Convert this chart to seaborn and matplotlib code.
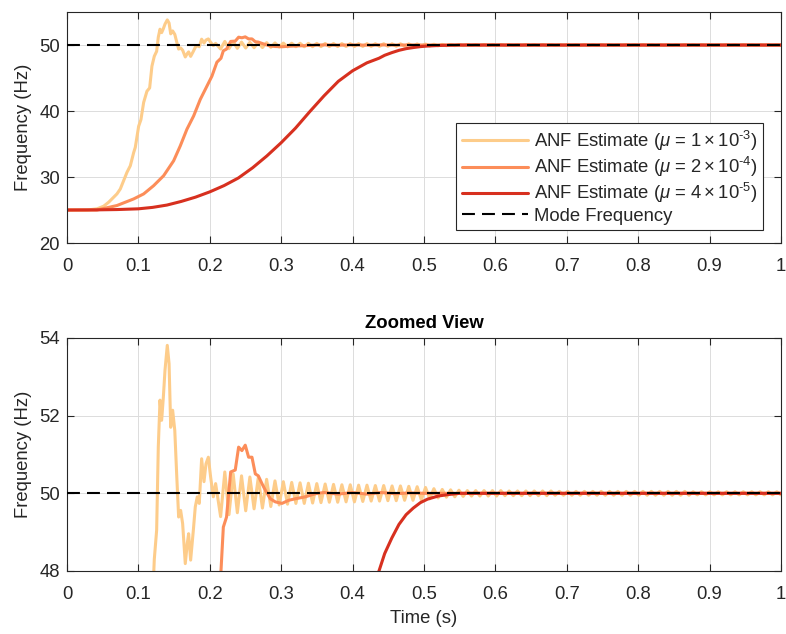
import numpy as np
import pandas as pd
import matplotlib
matplotlib.use("Agg")
import matplotlib.pyplot as plt
import seaborn as sns

# ---------------- data ----------------
MODE_FREQ = 50.0

# mu = 1e-3 : transient part
yel_t = [0.0, 0.028, 0.042, 0.0514, 0.0584, 0.0654, 0.070, 0.0747, 0.0794, 0.084,
         0.0887, 0.0934, 0.0957, 0.1004, 0.1036, 0.1074, 0.112, 0.1158, 0.119, 0.1223,
         0.1256, 0.1279, 0.1303, 0.1326, 0.135, 0.1373, 0.1405, 0.143, 0.1453, 0.148,
         0.151, 0.1536, 0.1564, 0.1592, 0.162, 0.1657, 0.1685, 0.1704, 0.1732, 0.177,
         0.1797, 0.1825, 0.1853, 0.1886, 0.1919, 0.1947, 0.198, 0.2012, 0.205, 0.2082]
yel_f = [25.0, 25.0, 25.18, 25.58, 26.18, 26.93, 27.44, 28.19, 29.45, 30.7,
         31.7, 33.7, 34.5, 37.7, 38.7, 41.3, 43.0, 43.5, 46.8, 48.3,
         49.05, 51.19, 52.4, 51.88, 52.48, 53.17, 53.81, 53.34, 51.7, 52.14,
         51.62, 50.51, 49.39, 49.56, 49.22, 48.19, 48.71, 48.96, 48.28, 49.05,
         49.65, 49.91, 49.74, 50.89, 50.3, 50.76, 50.93, 50.42, 49.91, 50.25]
# mu = 1e-3 : ripple part (samples from t = 0.2152 to 1.0)
yel_ripple = [
    49.40, 50.55, 49.45, 50.50, 49.50, 50.45, 49.55,
    50.42, 49.60, 50.40, 49.62, 50.36, 49.66, 50.32, 49.70,
    50.30, 49.72, 50.28, 49.74, 50.27, 49.74, 50.26, 49.75, 50.25,
    49.76, 50.24, 49.77, 50.23, 49.77, 50.22, 49.78, 50.22,
    49.78, 50.21, 49.79, 50.21, 49.80, 50.20, 49.80, 50.20, 49.81,
    50.19, 49.81, 50.19, 49.82, 50.18, 49.82, 50.17, 49.83,
    50.15, 49.86, 50.12, 49.88, 50.10, 49.90, 50.09, 49.91, 50.08,
    49.92, 50.07, 49.93, 50.07, 49.93, 50.07, 49.93, 50.07,
    49.93, 50.07, 49.94, 50.06, 49.94, 50.06, 49.94, 50.06, 49.94, 50.06,
    49.94, 50.06, 49.94, 50.06, 49.95, 50.05, 49.95,
    50.05, 49.95, 50.05, 49.95, 50.05, 49.95, 50.05, 49.95, 50.05, 49.95,
    50.05, 49.95, 50.05, 49.95, 50.05, 49.95, 50.05, 49.95, 50.05, 49.95,
    50.05, 49.95, 50.05, 49.95, 50.05, 49.95, 50.05, 49.95, 50.05, 49.95,
    50.04, 49.96, 50.04, 49.96, 50.04, 49.96, 50.04, 49.96, 50.04, 49.96,
    50.04, 49.96, 50.04, 49.96, 50.04, 49.96, 50.04, 49.96, 50.04, 49.96,
    50.04, 49.96]
yel_ripple_t = np.linspace(0.2152, 1.0, len(yel_ripple))

# mu = 2e-4
org_t = [0.0, 0.042, 0.07, 0.0934, 0.1074, 0.1214, 0.1354, 0.1494, 0.1587, 0.168,
         0.1774, 0.1867, 0.196, 0.203, 0.21, 0.2157, 0.219, 0.2235, 0.226, 0.2293,
         0.2357, 0.2404, 0.245, 0.2497, 0.2544, 0.2591, 0.2638, 0.268, 0.2731, 0.2778,
         0.2848, 0.2918, 0.3011, 0.3105, 0.3198, 0.334, 0.348, 0.36, 0.38, 0.40,
         0.42, 0.44, 0.46, 0.48, 0.50, 0.55, 0.60, 0.70, 0.80, 0.90, 1.0]
org_f = [25.0, 25.0, 25.68, 26.68, 27.44, 28.69, 30.2, 32.46, 34.72, 37.24,
         39.25, 41.76, 43.77, 45.28, 47.4, 48.0, 49.13, 49.39, 49.9, 50.55,
         50.6, 51.19, 51.1, 51.24, 50.93, 50.93, 50.5, 50.45, 50.25, 50.08,
         49.86, 49.78, 49.74, 49.82, 49.86, 49.91, 49.99, 50.02, 49.98, 50.02,
         49.98, 50.02, 49.99, 50.01, 50.0, 50.0, 50.0, 50.0, 50.0, 50.0, 50.0]

# mu = 4e-5
red_t = [0.0, 0.04, 0.07, 0.10, 0.12, 0.14, 0.16, 0.18, 0.20, 0.22,
         0.24, 0.26, 0.28, 0.30, 0.32, 0.34, 0.36, 0.38, 0.40, 0.42,
         0.437, 0.445, 0.455, 0.465, 0.475, 0.485, 0.495, 0.505, 0.52, 0.535,
         0.55, 0.60, 0.70, 0.80, 0.90, 1.0]
red_f = [25.0, 25.02, 25.07, 25.18, 25.4, 25.75, 26.3, 26.95, 27.75, 28.7,
         29.85, 31.4, 33.2, 35.2, 37.4, 39.9, 42.3, 44.5, 46.1, 47.3,
         48.0, 48.45, 48.85, 49.2, 49.45, 49.62, 49.76, 49.85, 49.93, 49.97,
         50.0, 50.0, 50.0, 50.0, 50.0, 50.0]

labels = [r"ANF Estimate ($\mu$ = $1\times10^{\text{-3}}$)",
          r"ANF Estimate ($\mu$ = $2\times10^{\text{-4}}$)",
          r"ANF Estimate ($\mu$ = $4\times10^{\text{-5}}$)"]
mode_label = "Mode Frequency"
colors = ["#fdcc8a", "#fc8d59", "#d7301f"]

x_ticks = [0, 0.1, 0.2, 0.3, 0.4, 0.5, 0.6, 0.7, 0.8, 0.9, 1]
x_ticklabels = ["0", "0.1", "0.2", "0.3", "0.4", "0.5", "0.6", "0.7", "0.8", "0.9", "1"]
top_yticks = [20, 30, 40, 50]
bot_yticks = [48, 50, 52, 54]

# ---------------- table ----------------
frames = [
    pd.DataFrame({"t": list(yel_t) + list(yel_ripple_t),
                  "f": list(yel_f) + list(yel_ripple), "s": labels[0]}),
    pd.DataFrame({"t": org_t, "f": org_f, "s": labels[1]}),
    pd.DataFrame({"t": red_t, "f": red_f, "s": labels[2]}),
]
df = pd.concat(frames, ignore_index=True)

# ---------------- style ----------------
sns.set_theme(style="whitegrid")
plt.rcParams["font.family"] = ["Liberation Sans", "DejaVu Sans"]
plt.rcParams["mathtext.fontset"] = "custom"
plt.rcParams["mathtext.rm"] = "Liberation Sans"
plt.rcParams["mathtext.it"] = "Liberation Sans:italic"
plt.rcParams["mathtext.bf"] = "Liberation Sans:bold"

FS = 13.3
DARK = "#262626"
fig = plt.figure(figsize=(7.86, 6.34), dpi=100)
ax1 = fig.add_axes([0.0852, 0.6167, 0.9084, 0.3643])
ax2 = fig.add_axes([0.0852, 0.0994, 0.9084, 0.3675])

for ax in (ax1, ax2):
    sns.lineplot(data=df, x="t", y="f", hue="s", palette=colors, hue_order=labels,
                 estimator=None, sort=False, linewidth=2.2, legend=False, ax=ax)
    ax.axhline(MODE_FREQ, color="black", linewidth=1.5, linestyle=(0, (6.2, 3.4)),
               label=mode_label, zorder=5)
    ax.set_xlim(0, 1)
    ax.set_xticks(x_ticks)
    ax.set_xticklabels(x_ticklabels)
    ax.set_xlabel("")
    ax.set_ylabel("Frequency (Hz)", fontsize=FS, color=DARK, labelpad=5)
    ax.grid(True, color="#dcdcdc", linewidth=0.7)
    ax.set_axisbelow(True)
    for sp in ax.spines.values():
        sp.set_color(DARK)
        sp.set_linewidth(0.8)
        sp.set_visible(True)
    ax.tick_params(direction="in", length=5, width=0.8, color=DARK, labelcolor=DARK,
                   labelsize=FS, top=True, right=True, bottom=True, left=True)
    ax.tick_params(axis="x", pad=11)
    ax.tick_params(axis="y", pad=5)
    ax.set_facecolor("white")

ax1.set_ylim(20, 55)
ax1.set_yticks(top_yticks)
ax2.set_ylim(48, 54)
ax2.set_yticks(bot_yticks)
ax2.set_xlabel("Time (s)", fontsize=FS, color=DARK, labelpad=5)
ax2.set_title("Zoomed View", fontsize=FS, fontweight="bold", color="black", pad=7)

handles = ax1.get_lines()[:4]
leg = ax1.legend(handles=handles, labels=labels + [mode_label], loc="lower right",
                 bbox_to_anchor=(0.975, 0.056), borderaxespad=0, fontsize=FS,
                 frameon=True, fancybox=False, framealpha=1, edgecolor=DARK,
                 handlelength=3.6, handletextpad=0.3, labelspacing=0.12,
                 borderpad=0.3)
leg.get_frame().set_linewidth(0.8)
for txt in leg.get_texts():
    txt.set_color(DARK)

fig.savefig("out.png", dpi=100, facecolor="white")
